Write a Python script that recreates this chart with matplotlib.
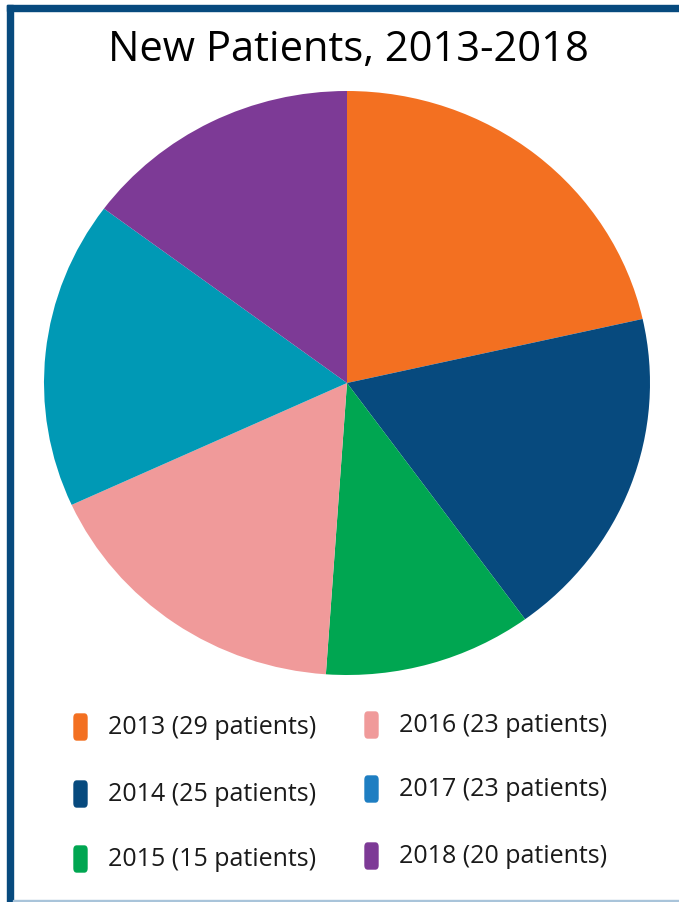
import matplotlib.pyplot as plt
from matplotlib.patches import FancyBboxPatch, Rectangle

# ---- data ----
years = ["2013", "2014", "2015", "2016", "2017", "2018"]
patients = [29, 25, 15, 23, 23, 20]
slice_colors = ["#F37021", "#074A7E", "#00A651", "#F09A9A", "#0099B5", "#7D3A96"]
legend_colors = ["#F37021", "#074A7E", "#00A651", "#F09A9A", "#1E7EC2", "#7D3A96"]
legend_labels = [f"{y} ({p} patients)" for y, p in zip(years, patients)]

W, H = 679, 903
fig = plt.figure(figsize=(W / 100, H / 100), dpi=100)
fig.patch.set_facecolor("white")
plt.rcParams['font.family'] = ['Open Sans', 'DejaVu Sans']

# border (thick dark blue top/left, thin light bottom)
fig.patches.append(Rectangle((7 / W, 1 - 12 / H), 1, 6 / H, transform=fig.transFigure,
                             color="#074A7E", zorder=0))
fig.patches.append(Rectangle((7 / W, 0), 6 / W, 1 - 6 / H, transform=fig.transFigure,
                             color="#074A7E", zorder=0))
fig.patches.append(Rectangle((13 / W, 0), 1, 2 / H, transform=fig.transFigure,
                             color="#A9C4DA", zorder=0))

# pie axes (slightly wider than tall, like the original)
left, right, top, bottom = 44, 650, 92, 676
ax = fig.add_axes([left / W, 1 - bottom / H, (right - left) / W, (bottom - top) / H])
ax.pie(patients, colors=slice_colors, startangle=90, counterclock=False,
       wedgeprops=dict(linewidth=0))
ax.set_aspect('auto')
ax.set_xlim(-1, 1)
ax.set_ylim(-1, 1)
ax.axis('off')

fig.text(348 / W, 1 - 50 / H, "New Patients, 2013-2018", ha='center', va='center',
         fontsize=30, color="black")

# legend, two columns
col_x = [74, 365]
row_y = [[728, 795, 860], [726, 790, 857]]
for i, (lab, c) in enumerate(zip(legend_labels, legend_colors)):
    col = i // 3
    row = i % 3
    mx = col_x[col]
    my = row_y[col][row]
    fig.patches.append(FancyBboxPatch((mx / W, 1 - (my + 13) / H), 13 / W, 26 / H,
                                      boxstyle="round,pad=0,rounding_size=0.004",
                                      transform=fig.transFigure, color=c))
    fig.text((mx + 34) / W, 1 - my / H, lab, ha='left', va='center',
             fontsize=18, color="#1a1a1a")

fig.savefig("out.png", dpi=100)
